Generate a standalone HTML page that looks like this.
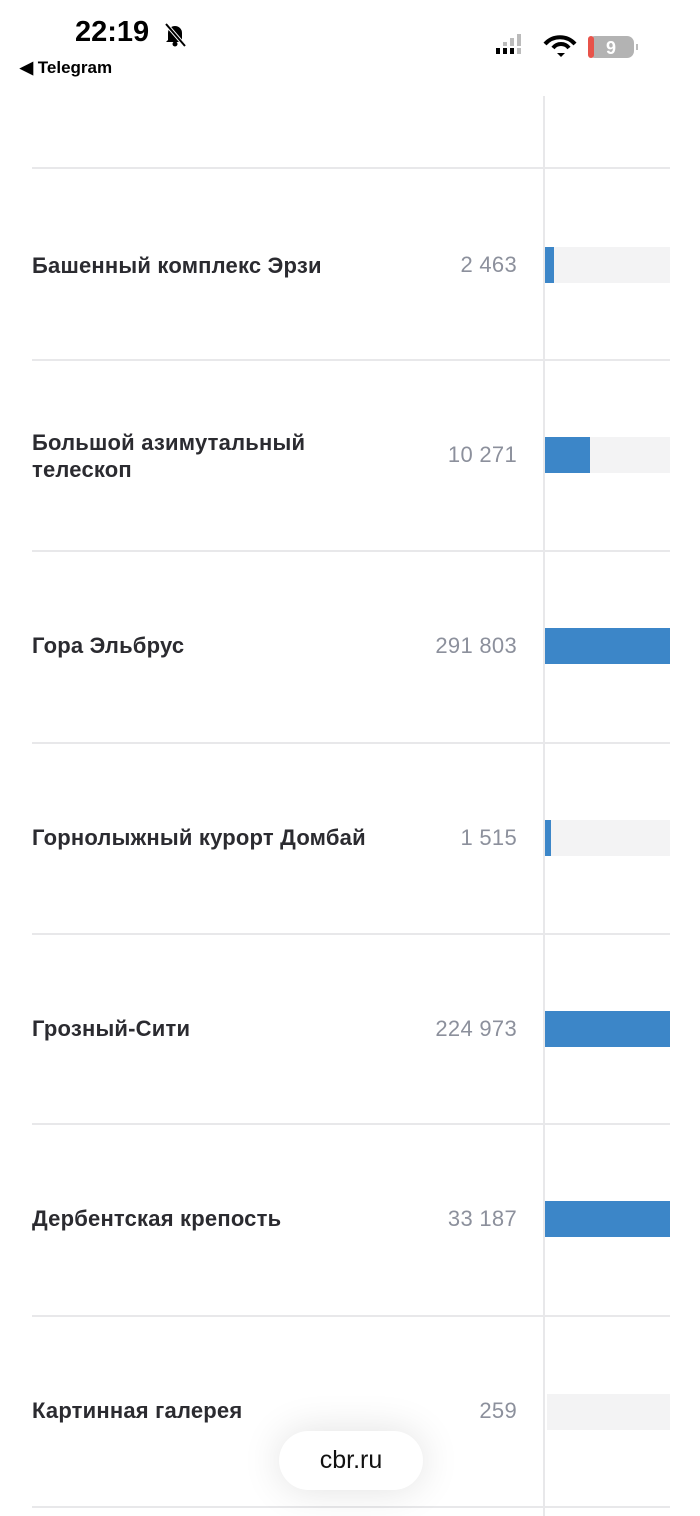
<!DOCTYPE html>
<html><head><meta charset="utf-8"><style>
body{margin:0;width:700px;height:1516px;background:#fff;position:relative;overflow:hidden;font-family:"Liberation Sans",Arial,sans-serif}
.a{position:absolute}
.sep{position:absolute;left:32px;width:638px;height:2px;background:#e8e8ea}
.lbl{position:absolute;left:32px;font-weight:bold;font-size:22px;color:#2b2b30;line-height:27px;letter-spacing:0.2px}
.val{position:absolute;right:183px;font-size:22px;color:#8c909c;line-height:24px;letter-spacing:0.3px}
.trk{position:absolute;left:545px;width:125px;height:36px;background:#f3f3f4}
.fil{position:absolute;left:0;top:0;height:36px;background:#3c86c8}
</style></head><body>
<div class="a" style="left:75px;top:16px;font-size:29px;font-weight:bold;color:#000">22:19</div>
<svg class="a" style="left:162px;top:22px" width="26" height="26">
<path d="M6 18 L6 11 A7 7 0 0 1 20 11 L20 18 L22 20 L4 20 Z" fill="#000"/><circle cx="13" cy="22" r="2.5" fill="#000"/>
<line x1="4" y1="2" x2="23" y2="24" stroke="#fff" stroke-width="4"/><line x1="4" y1="2" x2="23" y2="24" stroke="#000" stroke-width="2"/>
</svg>
<div class="a" style="left:20px;top:58px;font-size:17px;font-weight:bold;color:#000">◀ Telegram</div>
<svg class="a" style="left:496px;top:34px" width="150" height="26">
<rect x="0" y="14" width="4" height="6" fill="#000"/><rect x="7" y="14" width="4" height="6" fill="#000"/><rect x="14" y="14" width="4" height="6" fill="#000"/><rect x="21" y="14" width="4" height="6" fill="#bbb"/>
<rect x="7" y="8" width="4" height="4" fill="#bbb"/><rect x="14" y="4" width="4" height="8" fill="#bbb"/><rect x="21" y="0" width="4" height="12" fill="#bbb"/>
<path d="M50 4 A20 20 0 0 1 80 4" stroke="#000" stroke-width="4" fill="none" transform="translate(-1,6)"/>
<path d="M57 14 A10 10 0 0 1 73 14" stroke="#000" stroke-width="4" fill="none"/>
<path d="M61 19 L65 23 L69 19 Z" fill="#000"/>
<rect x="92" y="2" width="46" height="22" rx="7" fill="#b3b3b3"/>
<rect x="92" y="2" width="6" height="22" rx="3" fill="#e8534a"/>
<text x="115" y="20" font-size="18" font-weight="bold" fill="#fff" text-anchor="middle" font-family="Liberation Sans">9</text>
<rect x="140" y="10" width="2" height="6" fill="#bbb"/>
</svg>
<div class="a" style="left:543px;top:96px;width:2px;height:1420px;background:#e8e8ea"></div>
<div class="sep" style="top:167px"></div><div class="sep" style="top:359px"></div><div class="sep" style="top:550px"></div><div class="sep" style="top:742px"></div><div class="sep" style="top:933px"></div><div class="sep" style="top:1123px"></div><div class="sep" style="top:1315px"></div><div class="sep" style="top:1506px"></div>

<div class="lbl" style="top:252px">Башенный комплекс Эрзи</div><div class="val" style="top:253px">2 463</div>
<div class="trk" style="top:247px"><div class="fil" style="width:9px"></div></div>

<div class="lbl" style="top:429px">Большой азимутальный<br>телескоп</div><div class="val" style="top:443px">10 271</div>
<div class="trk" style="top:437px"><div class="fil" style="width:45px"></div></div>

<div class="lbl" style="top:632px">Гора Эльбрус</div><div class="val" style="top:634px">291 803</div>
<div class="trk" style="top:628px"><div class="fil" style="width:125px"></div></div>

<div class="lbl" style="top:824px">Горнолыжный курорт Домбай</div><div class="val" style="top:826px">1 515</div>
<div class="trk" style="top:820px"><div class="fil" style="width:6px"></div></div>

<div class="lbl" style="top:1015px">Грозный-Сити</div><div class="val" style="top:1017px">224 973</div>
<div class="trk" style="top:1011px"><div class="fil" style="width:125px"></div></div>

<div class="lbl" style="top:1205px">Дербентская крепость</div><div class="val" style="top:1207px">33 187</div>
<div class="trk" style="top:1201px"><div class="fil" style="width:125px"></div></div>

<div class="lbl" style="top:1397px">Картинная галерея</div><div class="val" style="top:1399px">259</div>
<div class="trk" style="top:1394px;left:547px;width:123px"></div>

<div class="a" style="left:279px;top:1431px;width:144px;height:59px;border-radius:30px;background:#fff;box-shadow:0 0 40px rgba(0,0,0,0.12);text-align:center;line-height:59px;font-size:25px;color:#111">cbr.ru</div>
</body></html>
